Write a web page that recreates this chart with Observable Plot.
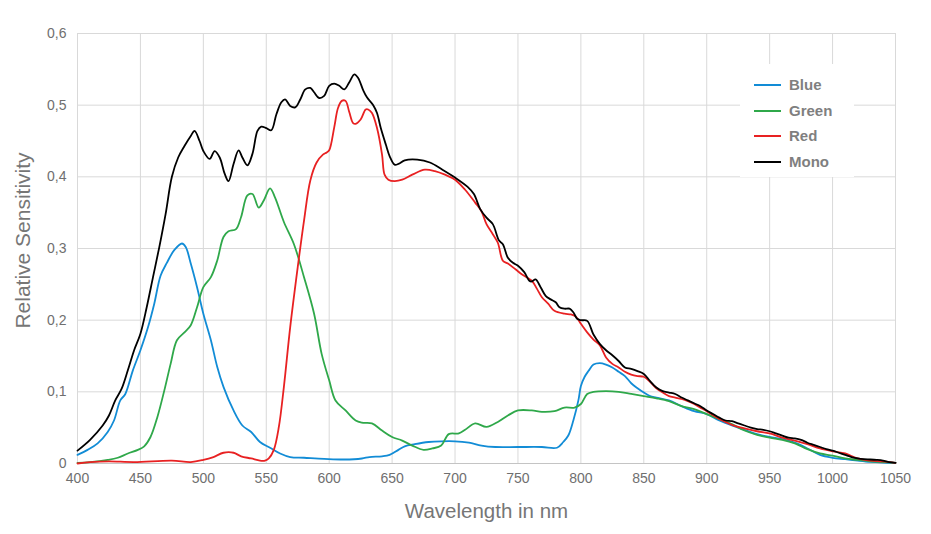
<!DOCTYPE html>
<html>
<head>
<meta charset="utf-8">
<script src="https://cdn.jsdelivr.net/npm/d3@7"></script>
<script src="https://cdn.jsdelivr.net/npm/@observablehq/plot@0.6"></script>
<style>
  body { margin: 0; background: #fff; }
  #wrap { position: relative; width: 931px; height: 534px; font-family: "Liberation Sans", Arial, sans-serif; }
  #legend { position: absolute; left: 740px; top: 64px; width: 114px; height: 113px; background: #fff; }
  .item { position: absolute; left: 0; height: 20px; width: 114px; }
  .swatch { position: absolute; left: 14px; top: 9px; width: 27px; height: 2px; }
  .lab { position: absolute; left: 49px; top: 0; line-height: 20px; font-size: 15px; font-weight: bold; color: #7f7f7f; }
</style>
</head>
<body>
<div id="wrap"></div>
<script>
const seriesNames = ["Blue", "Green", "Red", "Mono"];
const seriesColors = ["#128cd6", "#2fa84a", "#e82122", "#000000"];
const wavelengthTicks = [400, 450, 500, 550, 600, 650, 700, 750, 800, 850, 900, 950, 1000, 1050];
const sensitivityTicks = [0, 0.1, 0.2, 0.3, 0.4, 0.5, 0.6];

const blue = [[400,0.012],[408,0.019],[416,0.028],[424,0.044],[429,0.06],[434,0.088],[438,0.097],[444,0.13],[450,0.158],[456,0.19],[461,0.223],[466,0.262],[471,0.28],[477,0.298],[483,0.307],[486,0.302],[490,0.279],[495,0.246],[500,0.209],[506,0.172],[511,0.135],[516,0.107],[524,0.074],[531,0.053],[538,0.044],[545,0.03],[553,0.022],[561,0.014],[569,0.009],[580,0.008],[596,0.0065],[612,0.0056],[626,0.007],[632,0.009],[642,0.01],[648,0.012],[655,0.019],[660,0.024],[668,0.027],[679,0.03],[689,0.031],[700,0.031],[711,0.029],[721,0.025],[732,0.023],[750,0.023],[769,0.023],[781,0.022],[786,0.03],[790,0.039],[794,0.06],[798,0.088],[800,0.108],[803,0.121],[806,0.129],[810,0.138],[815,0.14],[820,0.138],[825,0.134],[830,0.128],[835,0.122],[840,0.112],[845,0.105],[850,0.099],[855,0.094],[860,0.092],[870,0.088],[880,0.08],[890,0.073],[900,0.069],[910,0.06],[920,0.053],[930,0.047],[940,0.041],[950,0.037],[960,0.034],[970,0.029],[980,0.021],[990,0.012],[1000,0.008],[1010,0.006],[1020,0.004],[1030,0.0023],[1040,0.0014],[1050,0.001]];

const green = [[400,0.001],[410,0.002],[424,0.005],[432,0.008],[440,0.014],[448,0.019],[453,0.024],[458,0.037],[463.5,0.065],[469,0.102],[474,0.139],[479,0.172],[485,0.183],[490,0.193],[495,0.218],[500,0.246],[506,0.26],[511,0.283],[516,0.316],[520,0.324],[526,0.327],[530,0.344],[535,0.374],[539,0.376],[544,0.357],[548,0.367],[553,0.384],[557,0.371],[564,0.337],[572,0.306],[580,0.26],[588,0.209],[594,0.153],[600,0.116],[605,0.088],[613,0.074],[621,0.06],[626,0.057],[634,0.056],[642,0.046],[650,0.037],[658,0.032],[666,0.025],[675,0.019],[682,0.021],[689,0.025],[695,0.041],[703,0.042],[708,0.047],[716,0.056],[725,0.051],[734,0.058],[742,0.067],[750,0.074],[761,0.074],[769,0.072],[779,0.073],[787,0.078],[795,0.078],[800,0.083],[805,0.097],[810,0.1],[820,0.101],[830,0.1],[840,0.097],[850,0.094],[860,0.091],[870,0.087],[880,0.08],[890,0.076],[900,0.069],[910,0.062],[920,0.055],[930,0.046],[940,0.04],[950,0.036],[960,0.033],[970,0.028],[980,0.02],[990,0.014],[1000,0.011],[1010,0.007],[1020,0.005],[1030,0.003],[1040,0.002],[1050,0.001]];

const red = [[400,0],[410,0.002],[425,0.003],[445,0.002],[475,0.004],[490,0.002],[500,0.005],[508,0.009],[516,0.015],[524,0.015],[530,0.01],[538,0.007],[545,0.004],[549,0.004],[552,0.007],[556,0.019],[560,0.051],[564,0.107],[569,0.19],[575,0.274],[580,0.339],[585,0.395],[590,0.42],[595,0.431],[598,0.434],[600,0.437],[604,0.469],[607,0.496],[610,0.506],[613,0.506],[616,0.49],[619,0.475],[621,0.474],[625,0.48],[629,0.494],[631,0.494],[634,0.489],[638,0.468],[642,0.431],[644,0.403],[647,0.396],[652,0.394],[658,0.396],[666,0.403],[676,0.41],[684,0.408],[692,0.403],[700,0.396],[708,0.382],[716,0.364],[721,0.352],[725,0.334],[730,0.32],[734,0.308],[738,0.283],[742,0.279],[748,0.271],[753,0.264],[761,0.255],[765,0.244],[769,0.232],[774,0.223],[779,0.213],[787,0.209],[792,0.208],[796,0.205],[800,0.195],[805,0.183],[810,0.173],[815,0.165],[820,0.148],[825,0.139],[830,0.134],[835,0.128],[840,0.124],[845,0.122],[850,0.121],[855,0.114],[860,0.105],[865,0.099],[870,0.094],[875,0.092],[880,0.09],[885,0.087],[890,0.083],[895,0.078],[900,0.073],[910,0.062],[920,0.054],[930,0.049],[940,0.045],[950,0.042],[960,0.036],[970,0.032],[980,0.027],[990,0.021],[1000,0.017],[1010,0.014],[1020,0.007],[1030,0.004],[1040,0.003],[1050,0.001]];

const mono = [[400,0.018],[410,0.033],[420,0.053],[425,0.067],[430,0.088],[435,0.104],[440,0.13],[445,0.158],[450,0.181],[455,0.218],[460,0.26],[465,0.302],[470,0.348],[475,0.4],[480,0.427],[485,0.443],[490,0.457],[493,0.464],[497,0.45],[500,0.436],[505,0.425],[509,0.436],[513,0.427],[517,0.404],[520,0.394],[524,0.418],[528,0.437],[531,0.427],[535,0.416],[539,0.432],[543,0.464],[546,0.47],[550,0.468],[554,0.465],[558,0.487],[562,0.504],[565,0.508],[569,0.499],[573,0.497],[577,0.508],[581,0.522],[585,0.524],[588,0.518],[592,0.51],[596,0.513],[600,0.527],[604,0.53],[608,0.527],[612,0.522],[616,0.532],[620,0.543],[623,0.538],[627,0.521],[630,0.511],[635,0.5],[638,0.489],[641,0.468],[645,0.445],[648,0.429],[652,0.417],[655,0.418],[660,0.423],[670,0.424],[680,0.42],[690,0.41],[700,0.399],[710,0.386],[715,0.376],[720,0.355],[725,0.343],[730,0.334],[735,0.311],[738,0.306],[742,0.287],[746,0.28],[750,0.276],[755,0.267],[759,0.255],[761,0.254],[764,0.257],[768,0.246],[772,0.234],[776,0.229],[780,0.225],[783,0.218],[787,0.216],[791,0.216],[794,0.211],[797,0.202],[800,0.2],[805,0.199],[810,0.18],[815,0.167],[820,0.158],[825,0.151],[830,0.143],[835,0.134],[840,0.132],[845,0.129],[850,0.125],[855,0.115],[860,0.106],[865,0.101],[870,0.099],[875,0.097],[880,0.092],[885,0.088],[890,0.084],[895,0.08],[900,0.074],[905,0.069],[910,0.064],[915,0.06],[920,0.059],[925,0.056],[930,0.053],[935,0.05],[940,0.048],[945,0.047],[950,0.045],[955,0.042],[960,0.039],[965,0.036],[970,0.035],[975,0.033],[980,0.029],[985,0.026],[990,0.023],[995,0.02],[1000,0.018],[1005,0.015],[1010,0.012],[1015,0.009],[1020,0.007],[1025,0.006],[1030,0.0056],[1035,0.005],[1040,0.004],[1045,0.002],[1050,0.001]];

const seriesData = [blue, green, red, mono];
const rows = seriesData.flatMap((arr, i) => arr.map(([wl, v]) => ({series: seriesNames[i], wl, v})));

const comma = d => d === 0 ? "0" : d.toFixed(1).replace(".", ",");

const chart = Plot.plot({
  width: 931,
  height: 534,
  marginLeft: 77,
  marginRight: 36,
  marginTop: 33,
  marginBottom: 71,
  style: {fontFamily: "'Liberation Sans', Arial, sans-serif", background: "#fff", color: "#6f6f6f"},
  x: {domain: [400, 1050]},
  y: {domain: [0, 0.6]},
  color: {domain: seriesNames, range: seriesColors},
  marks: [
    Plot.gridX(wavelengthTicks, {stroke: "#d9d9d9", strokeOpacity: 1}),
    Plot.gridY(sensitivityTicks, {stroke: "#d9d9d9", strokeOpacity: 1}),
    Plot.ruleY([0], {stroke: "#c4c4c4"}),
    Plot.axisX(wavelengthTicks, {tickSize: 0, tickPadding: 10, fontSize: 14, label: null, tickFormat: d => String(d), fill: "#6f6f6f"}),
    Plot.axisY(sensitivityTicks, {tickSize: 0, tickPadding: 11, fontSize: 14, label: null, tickFormat: comma, fill: "#6f6f6f"}),
    Plot.line(rows, {x: "wl", y: "v", z: "series", stroke: "series", curve: "catmull-rom", strokeWidth: 1.8}),
    Plot.text(["Wavelength in nm"], {frameAnchor: "bottom", textAnchor: "middle", lineAnchor: "middle", dy: 48, fontSize: 20.5, fill: "#767676"}),
    Plot.text(["Relative Sensitivity"], {frameAnchor: "left", textAnchor: "middle", lineAnchor: "middle", rotate: -90, dx: -54, dy: -8, fontSize: 21, fill: "#767676"})
  ]
});

const wrap = document.getElementById("wrap");
wrap.appendChild(chart);

const legend = document.createElement("div");
legend.id = "legend";
seriesNames.forEach((name, i) => {
  const item = document.createElement("div");
  item.className = "item";
  item.style.top = (11 + i * 25.6) + "px";
  const sw = document.createElement("div");
  sw.className = "swatch";
  sw.style.background = seriesColors[i];
  const lab = document.createElement("div");
  lab.className = "lab";
  lab.textContent = name;
  item.appendChild(sw);
  item.appendChild(lab);
  legend.appendChild(item);
});
wrap.appendChild(legend);
</script>
</body>
</html>
